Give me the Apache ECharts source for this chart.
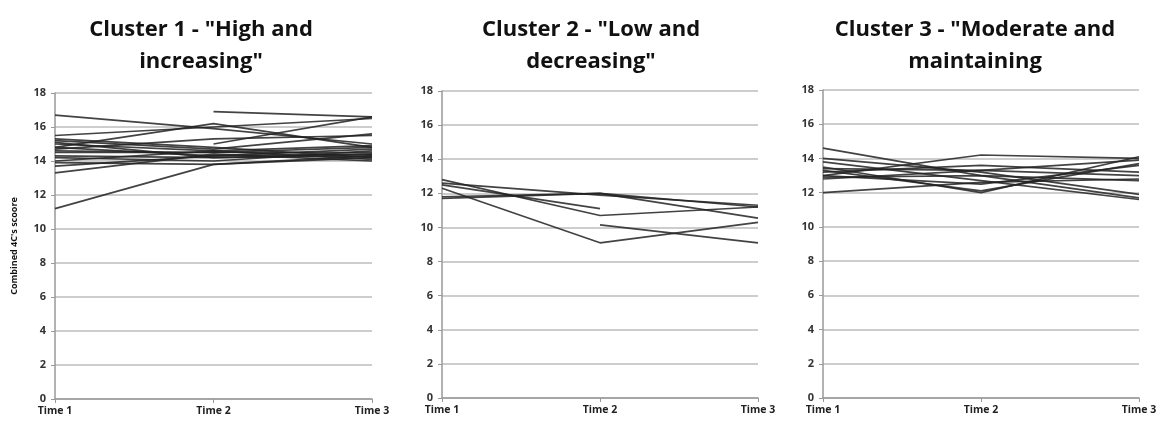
<!DOCTYPE html>
<html>
<head>
<meta charset="utf-8">
<script src="https://cdn.jsdelivr.net/npm/echarts@6/dist/echarts.min.js"></script>
<style>
html,body{margin:0;padding:0;background:#fff;}
#c{width:1165px;height:426px;}
</style>
</head>
<body>
<div id="c"></div>
<script>
const categories = ['Time 1', 'Time 2', 'Time 3'];
const yTicks = [0, 2, 4, 6, 8, 10, 12, 14, 16, 18];
const titles = ['Cluster 1 - "High and\nincreasing"', 'Cluster 2 - "Low and\ndecreasing"', 'Cluster 3 - "Moderate and\nmaintaining'];
const yAxisName = "Combined 4C's scoore";

const cluster1 = [
  [16.7, 15.9, 15.0],
  [11.2, 13.8, 14.3],
  [null, 16.9, 16.6],
  [null, 15.0, 16.6],
  [14.8, 16.2, 14.8],
  [15.5, 16.0, 16.5],
  [15.2, 14.7, 15.6],
  [15.0, 14.6, 14.9],
  [14.8, 14.3, 14.7],
  [14.5, 14.5, 14.5],
  [14.3, 14.2, 14.3],
  [14.0, 14.6, 14.1],
  [13.9, 13.8, 14.2],
  [13.7, 14.3, 14.4],
  [13.3, 14.4, 14.0],
  [14.7, 15.3, 15.5],
  [15.3, 14.8, 14.2],
  [14.2, 14.0, 14.6],
  [14.6, 14.5, 14.8],
  [15.1, 14.2, 14.4]
];
const cluster2 = [
  [12.8, 10.7, 11.2],
  [12.3, 9.1, 10.3],
  [11.8, 12.0, 11.2],
  [12.5, 11.1, null],
  [null, 10.15, 9.1],
  [11.7, 12.0, 10.55],
  [12.6, 11.9, 11.3]
];
const cluster3 = [
  [14.6, 13.0, 11.7],
  [14.0, 13.2, 11.9],
  [13.8, 12.7, 11.6],
  [13.0, 14.2, 14.0],
  [12.0, 12.6, 12.8],
  [13.5, 12.0, 14.1],
  [13.3, 12.1, 13.7],
  [12.8, 13.3, 13.0],
  [13.2, 13.6, 13.2],
  [13.0, 12.5, 13.6],
  [12.9, 13.0, 12.7],
  [13.4, 13.3, 13.9]
];
const clusters = [cluster1, cluster2, cluster3];

const grids = [
  {left: 55, top: 93, width: 317, height: 306},
  {left: 442, top: 91, width: 316, height: 307},
  {left: 823, top: 90, width: 316, height: 308}
];
const titleCenters = [196, 586, 970];

const chart = echarts.init(document.getElementById('c'));
const option = {
  animation: false,
  backgroundColor: '#fff',
  title: titles.map((t, i) => ({
    text: t,
    left: titleCenters[i],
    top: 9,
    textAlign: 'center',
    textStyle: {
      fontFamily: '"Open Sans", sans-serif',
      fontWeight: 'bold',
      fontSize: 22,
      lineHeight: 32,
      color: '#111'
    }
  })),
  grid: grids,
  xAxis: grids.map((g, i) => ({
    type: 'category',
    gridIndex: i,
    data: categories,
    boundaryGap: false,
    axisLine: {lineStyle: {color: '#999', width: 1.5}},
    axisTick: {show: true, length: 4, lineStyle: {color: '#999'}},
    axisLabel: {
      color: '#222', fontWeight: 'bold', fontSize: 10.5, margin: 7,
      fontFamily: '"Open Sans", sans-serif'
    },
    splitLine: {show: false}
  })),
  yAxis: grids.map((g, i) => ({
    type: 'value',
    gridIndex: i,
    min: yTicks[0],
    max: yTicks[yTicks.length - 1],
    interval: 2,
    name: i === 0 ? yAxisName : '',
    nameLocation: 'middle',
    nameGap: 36,
    nameTextStyle: {color: '#111', fontWeight: 'bold', fontSize: 9, fontFamily: '"Open Sans", sans-serif'},
    axisLine: {show: true, lineStyle: {color: '#999', width: 1.5}},
    axisTick: {show: true, length: 4, lineStyle: {color: '#999'}},
    axisLabel: {color: '#333', fontSize: 11, fontWeight: 'bold', margin: 9, fontFamily: '"Open Sans", sans-serif'},
    splitLine: {show: true, lineStyle: {color: '#bdbdbd', width: 1.5}}
  })),
  series: clusters.flatMap((cl, i) => cl.map(vals => ({
    type: 'line',
    xAxisIndex: i,
    yAxisIndex: i,
    data: vals,
    symbol: 'none',
    connectNulls: false,
    lineStyle: {color: '#222', width: 1.7, opacity: 0.85},
    silent: true
  })))
};
chart.setOption(option);
</script>
</body>
</html>
